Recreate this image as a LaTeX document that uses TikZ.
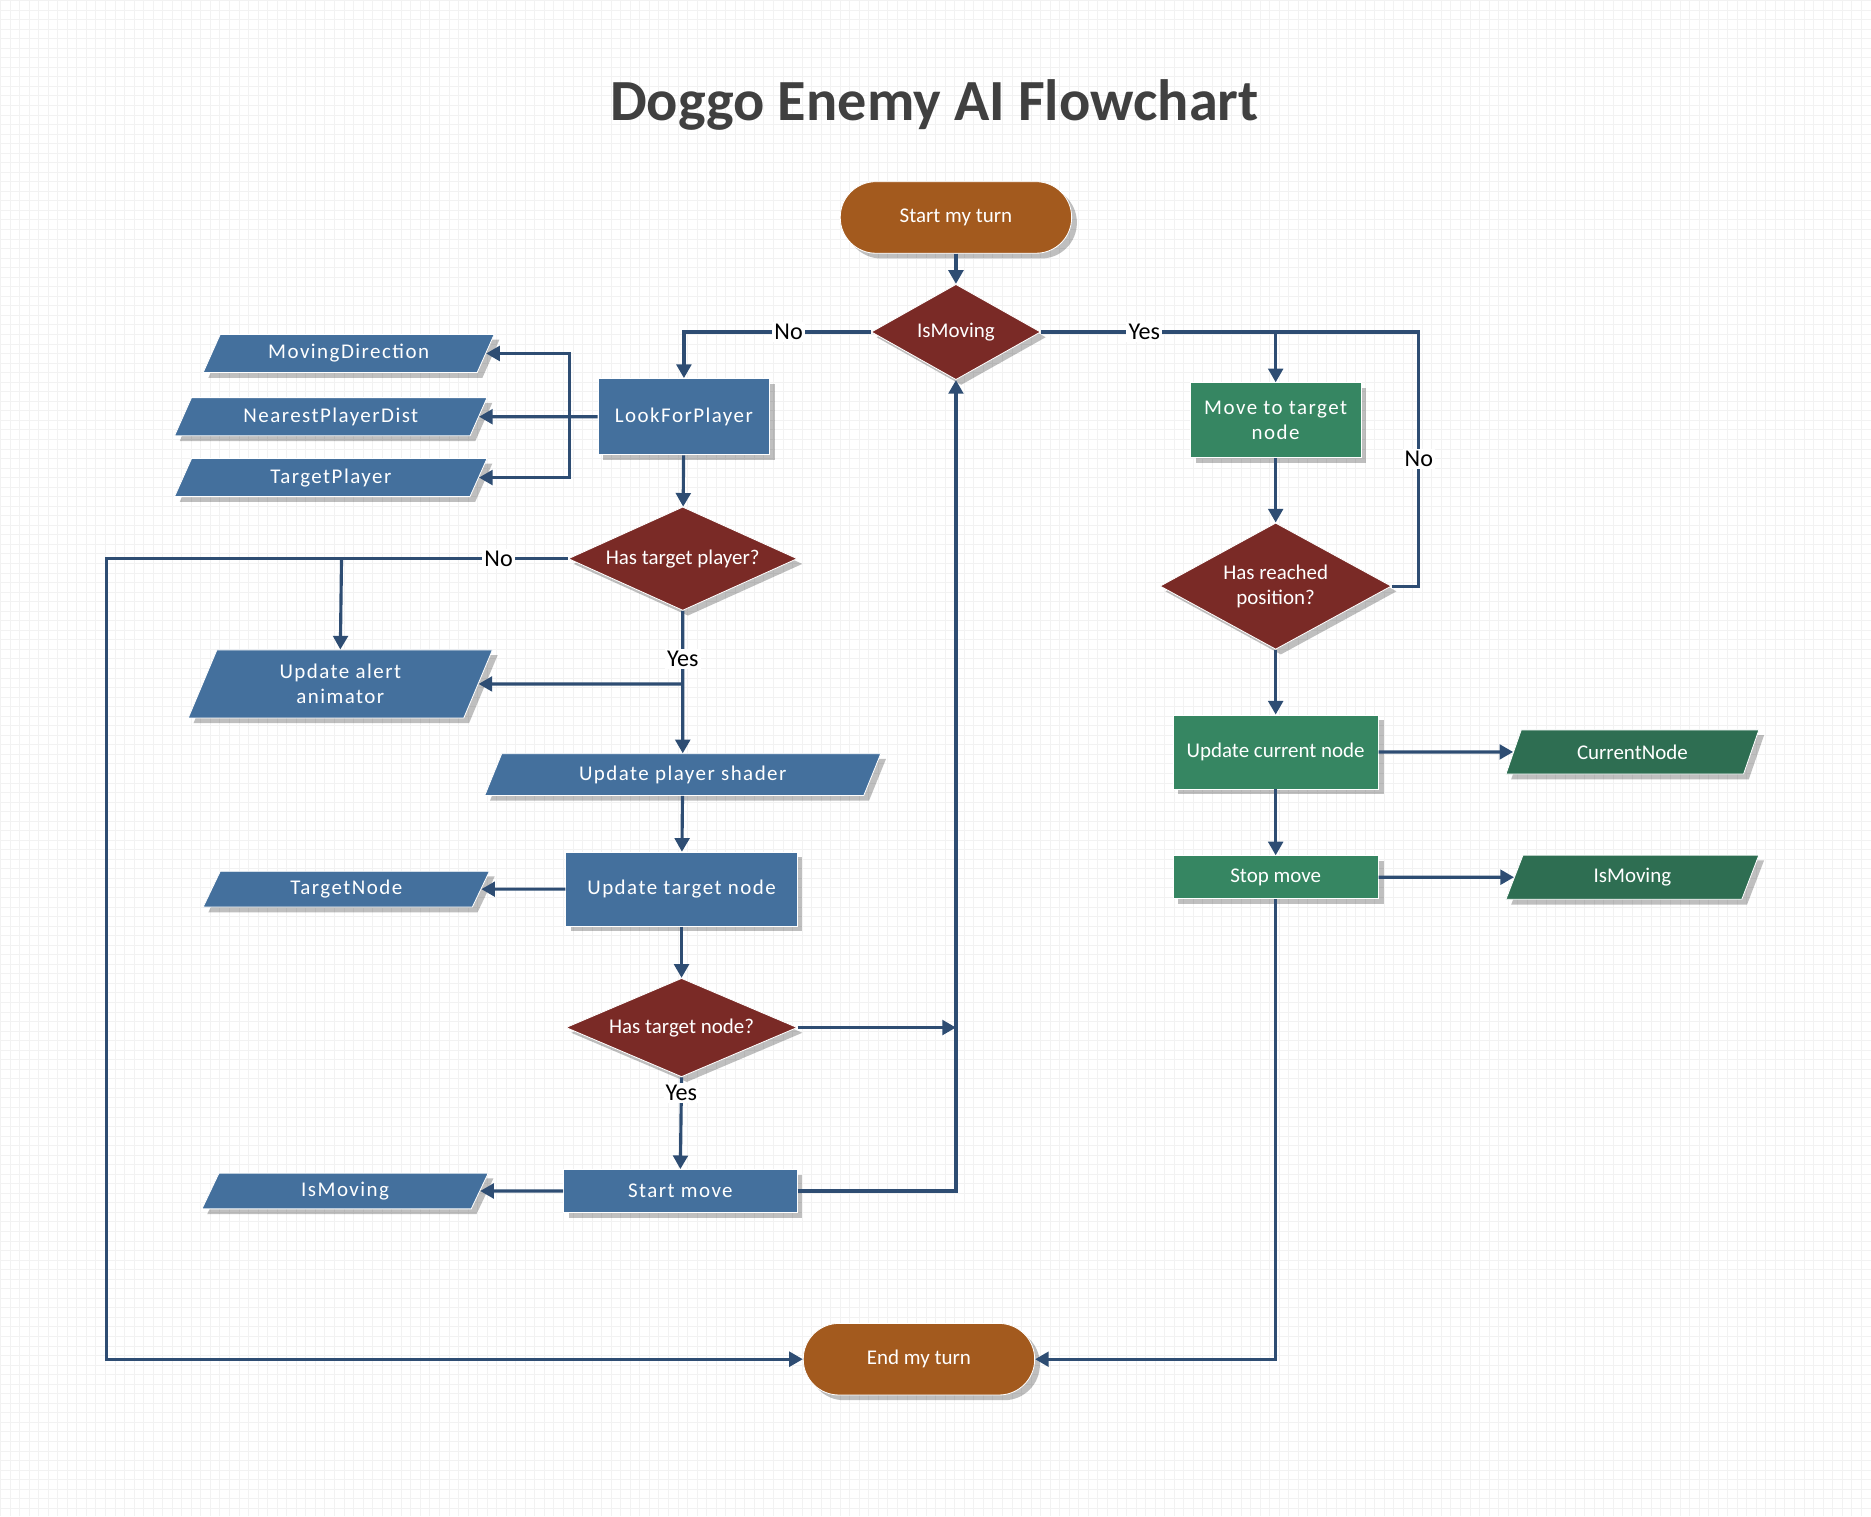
\documentclass[tikz,border=0pt]{standalone}
\usepackage{fontspec}
\setmainfont{Carlito}
\newfontfamily\widefont{Carlito}[LetterSpace=7]
\usetikzlibrary{arrows,arrows.meta,shapes,shapes.geometric,shadows,positioning}

\definecolor{termbrown}{HTML}{A35A1E}
\definecolor{decred}{HTML}{7A2A26}
\definecolor{procblue}{HTML}{44709D}
\definecolor{procgreen}{HTML}{368662}
\definecolor{datagreen}{HTML}{2E6E52}
\definecolor{linkblue}{HTML}{2E4D73}
\definecolor{titlegray}{HTML}{404040}

\tikzset{
  boxshadow/.style={drop shadow={shadow xshift=2.5pt, shadow yshift=-2.5pt, opacity=0.25, fill=black}},
  terminal/.style={rectangle, rounded corners=17pt, draw=white, fill=termbrown, text=white,
    minimum width=3.88cm, minimum height=1.2cm, font=\fontsize{10}{12}\selectfont, boxshadow},
  decision/.style={diamond, aspect=1.8, inner sep=0pt, draw=white, fill=decred, text=white,
    font=\fontsize{10}{12}\selectfont, boxshadow},
  process/.style={rectangle, draw=white, fill=procblue, text=white,
    font=\widefont\fontsize{10}{12}\selectfont, boxshadow},
  data/.style={trapezium, trapezium left angle=62, trapezium right angle=118, trapezium stretches body,
    draw=white, fill=procblue, text=white, font=\widefont\fontsize{10}{12}\selectfont, boxshadow},
  gproc/.style={process, fill=procgreen, minimum width=3.44cm, font=\fontsize{10}{12}\selectfont},
  gdata/.style={data, fill=datagreen, minimum width=4.24cm, minimum height=0.74cm, font=\fontsize{10}{12}\selectfont},
  wire/.style={line width=1.5pt, draw=linkblue},
  link/.style={wire, ->, >={Triangle[length=6.5pt,width=7pt]}},
  lbl/.style={fill=white, inner sep=1pt, text=black, font=\fontsize{11.5}{13}\selectfont},
  gridline/.style={step=0.16cm, draw=black!5, line width=0.3pt},
  title/.style={text=titlegray, font=\bfseries\fontsize{27.8}{32}\selectfont}
}

\begin{document}
\begin{tikzpicture}[x=0.02cm, y=-0.02cm]
  % background
  \fill[white] (0,0) rectangle (1568,1271);
  \draw[gridline] (0cm,-25.42cm) grid (31.36cm,0cm);
  \useasboundingbox (0,0) rectangle (1568,1271);

  \node[title] (title) at (783,88) {Doggo Enemy AI Flowchart};

  % main column
  \node[terminal] (start) at (801,182) {Start my turn};
  \node[decision, minimum width=2.84cm, minimum height=1.6cm] (ismov) at (801,278) {IsMoving};
  \node[terminal] (endturn) at (770,1139) {End my turn};

  % looking for a player
  \node[process, minimum width=2.88cm, minimum height=1.28cm] (look) at (573,349) {LookForPlayer};
  \node[data, minimum width=4.88cm, minimum height=0.64cm] (movdir) at (292,296) {MovingDirection};
  \node[data, minimum width=5.24cm, minimum height=0.64cm] (nearest) at (277,349) {NearestPlayerDist};
  \node[data, minimum width=5.24cm, minimum height=0.64cm] (tplayer) at (277,400) {TargetPlayer};
  \node[decision, minimum width=3.84cm, minimum height=1.52cm] (hastp) at (572,468) {Has target player?};
  \node[data, minimum width=5.1cm, minimum height=1.14cm, align=center] (alert) at (285,573) {Update alert\\animator};
  \node[data, minimum width=6.64cm, minimum height=0.7cm] (shader) at (572,649) {Update player shader};
  \node[process, minimum width=3.88cm, minimum height=1.24cm] (tnode) at (571,745) {Update target node};
  \node[data, minimum width=4.8cm, minimum height=0.6cm] (tnodeout) at (290,745) {TargetNode};
  \node[decision, minimum width=3.88cm, minimum height=1.52cm] (hastn) at (571,861) {Has target node?};
  \node[process, minimum width=3.92cm, minimum height=0.72cm] (startmv) at (570,998) {Start move};
  \node[data, minimum width=4.8cm, minimum height=0.6cm] (movout) at (289,998) {IsMoving};

  % moving
  \node[process, fill=procgreen, minimum width=2.86cm, minimum height=1.26cm, align=center] (moveto) at (1069,352) {Move to target\\node};
  \node[decision, minimum width=3.88cm, minimum height=2.12cm, align=center] (reached) at (1069,491) {Has reached\\position?};
  \node[gproc, minimum height=1.24cm] (curupd) at (1069,630) {Update current node};
  \node[gproc, minimum height=0.72cm] (stop) at (1069,735) {Stop move};
  \node[gdata] (curout) at (1368,630) {CurrentNode};
  \node[gdata] (stopout) at (1368,735) {IsMoving};

  \coordinate (lookfork) at (477,349);
  \coordinate (leftup) at (89,468);
  \coordinate (alertfork) at (286,468);
  \coordinate (yesfork) at (572,573);
  \coordinate (rejoin) at (801,861);
  \coordinate (loopcorner) at (1189,278);

  \draw[link] (start) -- (ismov);
  \draw[link] (ismov.west) -| node[lbl, pos=0.22] (noA) {No} (look.north);
  \draw[link] (look.west) -- (nearest.east);
  \draw[link] (lookfork) |- (movdir.east);
  \draw[link] (lookfork) |- (tplayer.east);
  \draw[link] (look) -- (hastp);
  \draw[link] (hastp.west) -- node[lbl, pos=0.15] (noB) {No} (leftup) |- (endturn.west);
  \draw[link] (alertfork) -- (alert.north);
  \draw[link] (hastp.south) -- node[lbl, pos=0.34] (yesB) {Yes} (shader.north);
  \draw[link] (yesfork) -- (alert.east);
  \draw[link] (shader) -- (tnode);
  \draw[link] (tnode.west) -- (tnodeout.east);
  \draw[link] (tnode) -- (hastn);
  \draw[link] (hastn.east) -- (rejoin);
  \draw[link] (hastn.south) -- node[lbl, pos=0.17] (yesC) {Yes} (startmv.north);
  \draw[link] (startmv.west) -- (movout.east);
  \draw[link] (startmv.east) -| (ismov.south);

  \draw[link] (ismov.east) -| node[lbl, pos=0.22] (yesA) {Yes} (moveto.north);
  \draw[link] (moveto) -- (reached);
  \draw[wire] (reached.east) -| node[lbl, pos=0.75] (noC) {No} (loopcorner) -- (moveto.north |- loopcorner);
  \draw[link] (reached) -- (curupd);
  \draw[link] (curupd.east) -- (curout.west);
  \draw[link] (curupd) -- (stop);
  \draw[link] (stop.east) -- (stopout.west);
  \draw[link] (stop.south) |- (endturn.east);
\end{tikzpicture}
\end{document}
